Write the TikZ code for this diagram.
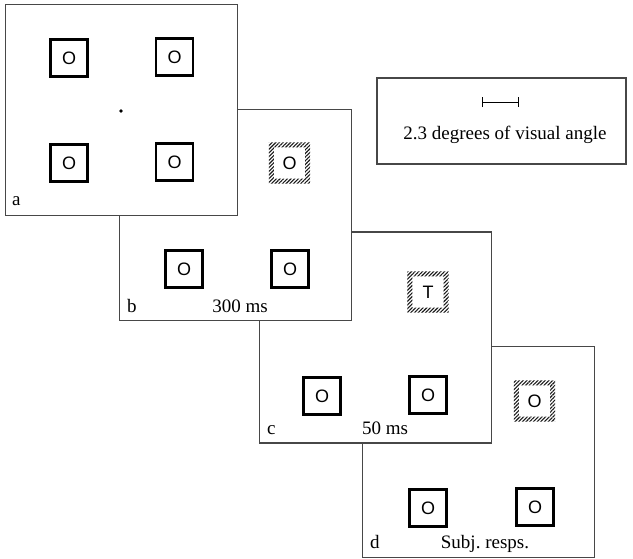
\documentclass[tikz,border=0pt]{standalone}
\usepackage{fontspec}
\setmainfont{Liberation Serif}
\newfontfamily\sansf{Liberation Sans}
\usetikzlibrary{patterns.meta,arrows.meta}

\tikzset{
  panel/.style={draw=black!72, line width=1.2pt, fill=white,
    minimum width=232pt, minimum height=211pt, inner sep=0pt},
  stim/.style={draw=black, line width=2.4pt, minimum size=37pt, inner sep=0pt,
    font=\sansf\fontsize{18}{20}\selectfont},
  cued/.style={minimum size=41pt, inner sep=0pt,
    font=\sansf\fontsize{18}{20}\selectfont},
  hatch/.style={pattern={Lines[angle=45,distance=2.6pt,line width=1.1pt]},
    pattern color=black!90, even odd rule},
  lab/.style={font=\fontsize{19}{22}\selectfont, inner sep=0pt, anchor=base west},
  time/.style={font=\fontsize{19}{22}\selectfont, inner sep=0pt, anchor=base}
}

% hatched frame around a cued location
\newcommand{\hatchframe}[1]{%
  \fill[hatch] (#1.north west) rectangle (#1.south east)
    ([xshift=5pt,yshift=-5pt]#1.north west) rectangle ([xshift=-5pt,yshift=5pt]#1.south east);}

\begin{document}
\begin{tikzpicture}[x=1pt,y=-1pt]
\useasboundingbox (0,0) rectangle (633,558);

% ---- scale reference box
\node[draw=black!72, line width=1.2pt, minimum width=249pt, minimum height=86pt, inner sep=0pt]
  (scale) at (501.5,121) {};
\coordinate (s1) at (482,102);
\coordinate (s2) at (519,102);
\draw[line width=1pt, {Bar[width=10pt]}-{Bar[width=10pt]}] (s1) -- (s2);
\node[time] (scaletxt) at (505,139) {2.3 degrees of visual angle};

% ---- panel d: response
\node[panel] (pd) at (478.5,452) {};
\node[cued] (d0) at (534.5,401) {O};
\hatchframe{d0}
\node[stim] (d1) at (428,508) {O};
\node[stim] (d2) at (535,507) {O};
\node[lab] (dl) at (370,548) {d};
\node[time] (dt) at (485,548) {Subj.\ resps.};

% ---- panel c: target
\node[panel] (pc) at (375.5,337.5) {};
\node[cued] (c0) at (428,292) {T};
\hatchframe{c0}
\node[stim] (c1) at (322,396) {O};
\node[stim] (c2) at (428,395) {O};
\node[lab] (cl) at (267,434) {c};
\node[time] (ct) at (385,434) {50 ms};

% ---- panel b: cue
\node[panel] (pb) at (235.5,215) {};
\node[cued] (b0) at (289.5,163) {O};
\hatchframe{b0}
\node[stim] (b1) at (184,269) {O};
\node[stim] (b2) at (290,269) {O};
\node[lab] (bl) at (127,312) {b};
\node[time] (bt) at (240,312) {300 ms};

% ---- panel a: fixation display
\node[panel] (pa) at (121.5,110) {};
\node[stim] (a1) at (69,58) {O};
\node[stim] (a2) at (174.5,57) {O};
\node[stim] (a3) at (69,163) {O};
\node[stim] (a4) at (174.5,162) {O};
\fill (121,111) circle (1.8);
\node[lab] (al) at (12,205) {a};

\end{tikzpicture}
\end{document}
